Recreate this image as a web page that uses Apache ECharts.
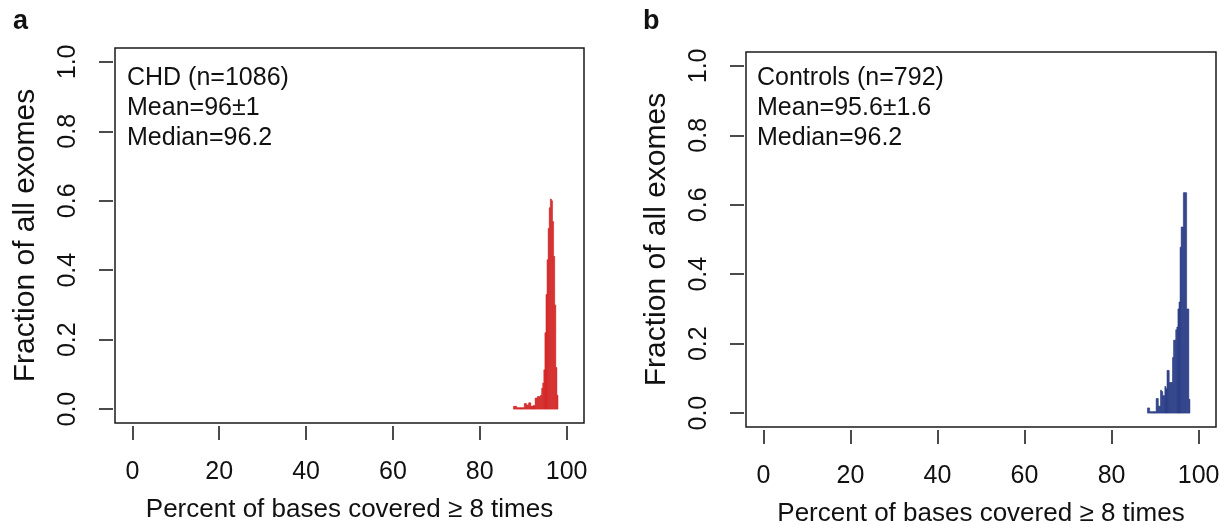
<!DOCTYPE html>
<html>
<head>
<meta charset="utf-8">
<script src="https://cdn.jsdelivr.net/npm/echarts@6/dist/echarts.min.js"></script>
<style>
html,body{margin:0;padding:0;background:#fff;}
#c{width:1227px;height:525px;}
</style>
</head>
<body>
<div id="c"></div>
<script>
// ---- data ----
const binWidth = 0.25;
const xTickValues = [0, 20, 40, 60, 80, 100];
const yTickValues = [0, 0.2, 0.4, 0.6, 0.8, 1.0];
const xAxisTitle = 'Percent of bases covered \u2265 8 times';
const yAxisTitle = 'Fraction of all exomes';

const chdBinLeft = [87.75, 88.0, 88.25, 88.5, 88.75, 89.0, 89.25, 89.5, 89.75, 90.0,
  90.25, 90.5, 90.75, 91.0, 91.25, 91.5, 91.75, 92.0, 92.25, 92.5,
  92.75, 93.0, 93.25, 93.5, 93.75, 94.0, 94.25, 94.5, 94.75, 95.0,
  95.25, 95.5, 95.75, 96.0, 96.25, 96.5, 96.75, 97.0, 97.25, 97.5, 97.75];
const chdFraction = [0.008, 0.008, 0.008, 0.004, 0.004, 0.004, 0.004, 0.004, 0.004, 0.004,
  0.016, 0.016, 0.012, 0.012, 0.018, 0.018, 0.008, 0.008, 0.010, 0.010,
  0.032, 0.032, 0.036, 0.036, 0.036, 0.040, 0.060, 0.075, 0.113, 0.22,
  0.33, 0.43, 0.52, 0.58, 0.605, 0.60, 0.54, 0.44, 0.30, 0.12, 0.04];

const ctrlBinLeft = [88.25, 88.5, 88.75, 89.0, 89.25, 89.5, 89.75, 90.0, 90.25, 90.5,
  90.75, 91.0, 91.25, 91.5, 91.75, 92.0, 92.25, 92.5, 92.75, 93.0,
  93.25, 93.5, 93.75, 94.0, 94.25, 94.5, 94.75, 95.0, 95.25, 95.5,
  95.75, 96.0, 96.25, 96.5, 96.75, 97.0, 97.25, 97.5, 97.75];
const ctrlFraction = [0.015, 0.015, 0.004, 0.004, 0.004, 0.004, 0.004, 0.004, 0.042, 0.042,
  0.02, 0.02, 0.066, 0.062, 0.05, 0.05, 0.077, 0.07, 0.123, 0.123,
  0.088, 0.088, 0.088, 0.16, 0.21, 0.21, 0.24, 0.248, 0.30, 0.32,
  0.478, 0.536, 0.536, 0.635, 0.635, 0.635, 0.30, 0.30, 0.04];

const chdText = ['CHD (n=1086)', 'Mean=96\u00b11', 'Median=96.2'];
const ctrlText = ['Controls (n=792)', 'Mean=95.6\u00b11.6', 'Median=96.2'];

// ---- chart ----
const FONT = '"Liberation Sans", Arial, Helvetica, sans-serif';
const chart = echarts.init(document.getElementById('c'), null, {renderer: 'canvas'});

function toHist(left, frac) {
  return left.map((x, i) => [x, x + binWidth, frac[i]]);
}
function makeRender(color) {
  return function (params, api) {
    const p0 = api.coord([api.value(0), api.value(2)]);
    const p1 = api.coord([api.value(1), 0]);
    return {
      type: 'rect',
      shape: {x: p0[0], y: p0[1], width: p1[0] - p0[0], height: p1[1] - p0[1]},
      style: {fill: color, stroke: color, lineWidth: 0.6}
    };
  };
}
function xAx(gi) {
  return {
    gridIndex: gi, type: 'value', min: -4, max: 104, offset: 3,
    axisLine: {show: false, onZero: false},
    axisTick: {show: true, inside: false, customValues: xTickValues, length: 14, lineStyle: {color: '#111', width: 1.5}},
    axisLabel: {customValues: xTickValues, margin: 34, fontSize: 25, color: '#111', fontFamily: FONT},
    splitLine: {show: false},
    name: xAxisTitle, nameLocation: 'middle', nameGap: 71,
    nameTextStyle: {fontSize: 26, color: '#111', fontFamily: FONT}
  };
}
function yAx(gi) {
  return {
    gridIndex: gi, type: 'value', min: -0.04, max: 1.04, offset: 2,
    axisLine: {show: false, onZero: false},
    axisTick: {show: true, inside: false, customValues: yTickValues, length: 14, lineStyle: {color: '#111', width: 1.5}},
    axisLabel: {customValues: yTickValues, rotate: 90, margin: 32, fontSize: 25, color: '#111', fontFamily: FONT,
      formatter: v => v.toFixed(1)},
    splitLine: {show: false},
    name: yAxisTitle, nameLocation: 'middle', nameRotate: 90, nameGap: 72,
    nameTextStyle: {fontSize: 30, color: '#111', fontFamily: FONT}
  };
}
function annot(lines, x, y) {
  return {
    type: 'text', left: x, top: y, z: 100,
    style: {text: lines.join('\n'), fontSize: 25, lineHeight: 30, fill: '#111', fontFamily: FONT}
  };
}

chart.setOption({
  animation: false,
  backgroundColor: '#fff',
  grid: [
    {left: 115, top: 48, width: 469, height: 375, outerBoundsMode: 'none', containLabel: false,
      show: true, borderColor: '#1a1a1a', borderWidth: 1.5, backgroundColor: 'transparent'},
    {left: 746, top: 52, width: 470, height: 375, outerBoundsMode: 'none', containLabel: false,
      show: true, borderColor: '#1a1a1a', borderWidth: 1.5, backgroundColor: 'transparent'}
  ],
  xAxis: [xAx(0), xAx(1)],
  yAxis: [yAx(0), yAx(1)],
  series: [
    {type: 'custom', xAxisIndex: 0, yAxisIndex: 0, data: toHist(chdBinLeft, chdFraction),
      encode: {x: [0, 1], y: 2}, renderItem: makeRender('#d42a2a'), silent: true},
    {type: 'custom', xAxisIndex: 1, yAxisIndex: 1, data: toHist(ctrlBinLeft, ctrlFraction),
      encode: {x: [0, 1], y: 2}, renderItem: makeRender('#2d3f88'), silent: true}
  ],
  graphic: [
    {type: 'text', left: 13, top: 8, style: {text: 'a', fontSize: 27, fontWeight: 'bold', fill: '#111', fontFamily: FONT}},
    {type: 'text', left: 643, top: 8, style: {text: 'b', fontSize: 27, fontWeight: 'bold', fill: '#111', fontFamily: FONT}},
    annot(chdText, 127, 63),
    annot(ctrlText, 757, 63)
  ]
});
</script>
</body>
</html>
